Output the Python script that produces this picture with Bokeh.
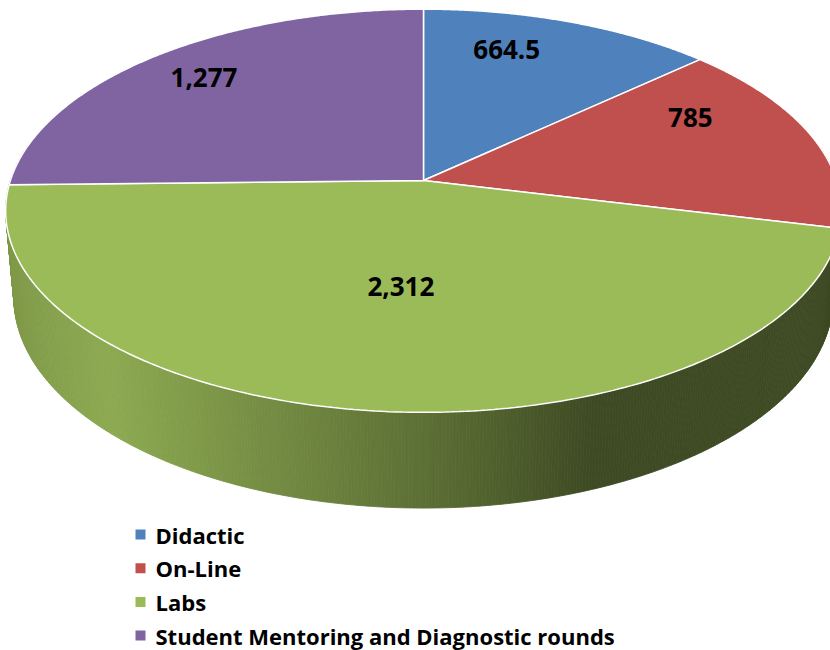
import numpy as np
from bokeh.plotting import figure
from bokeh.models import Range1d
from bokeh.core.properties import value
from bokeh.embed import file_html
from bokeh.resources import INLINE

# ---- data ----
categories = ["Didactic", "On-Line", "Labs", "Student Mentoring and Diagnostic rounds"]
hours = [664.5, 785, 2312, 1277]
labels = ["664.5", "785", "2,312", "1,277"]
colors = ["#4F81BD", "#C0504D", "#9BBB59", "#8064A2"]

# ---- layout / projection settings ----
W, H = 830, 650
CX, CY = 423.0, 180.0          # screen position of the pie centre
ALPHA = np.arcsin(0.477)       # viewing elevation
RAD = 0.1707                   # disc radius relative to camera distance
FOC = 2420.0                   # focal length (px)
DEPTH = 0.0413                 # thickness of the pie
LABEL_F = 0.7
label_nudge = [(-23, -16), (-6, -29), (12, -47), (-27, -13)]


def proj(phi, f=1.0, dep=0.0):
    phi = np.asarray(phi, dtype=float)
    X = RAD * f * np.cos(phi)
    Z = RAD * f * np.sin(phi)
    Y = -dep
    yc = Y * np.cos(ALPHA) + Z * np.sin(ALPHA)
    zc = 1.0 + Z * np.cos(ALPHA) - Y * np.sin(ALPHA)
    return CX + FOC * X / zc, CY - FOC * yc / zc


vals = np.array(hours, dtype=float)
frac = vals / vals.sum()
cum = np.concatenate([[0.0], np.cumsum(frac)])
starts = np.pi / 2 - 2 * np.pi * cum[:-1]
ends = np.pi / 2 - 2 * np.pi * cum[1:]

p = figure(width=W, height=H, x_range=Range1d(0, W), y_range=Range1d(H, 0),
           output_backend="svg", toolbar_location=None, min_border=0)
p.axis.visible = False
p.grid.visible = False
p.outline_line_color = None
p.background_fill_color = "white"


def shade_factor(x):
    xs = [8, 110, 300, 450, 590, 2000]
    fs = [0.82, 0.91, 0.72, 0.57, 0.40, 0.40]
    return float(np.interp(x, xs, fs))


def hex_to_rgb(h):
    h = h.lstrip("#")
    return tuple(int(h[i:i + 2], 16) for i in (0, 2, 4))


# ---- side wall (front half) ----
grid = np.linspace(-np.pi - 0.2, 0.2, 500)
bounds = []
for s, e in zip(starts, ends):
    bounds += [s, e]
extra = [b for b in bounds if -np.pi - 0.2 < b < 0.2]
extra += [b - 2 * np.pi for b in bounds if -np.pi - 0.2 < b - 2 * np.pi < 0.2]
allphi = np.unique(np.concatenate([grid, extra]))


def slice_of(phi):
    t = ((np.pi / 2 - phi) / (2 * np.pi)) % 1.0
    return int(np.searchsorted(cum[1:], t, side="right"))


strips = []
for a0, a1 in zip(allphi[:-1], allphi[1:]):
    mid = 0.5 * (a0 + a1)
    k = min(slice_of(mid), len(vals) - 1)
    tx, ty = proj([a0, a1])
    bx, by = proj([a1, a0], dep=DEPTH)
    xs = list(tx) + list(bx)
    ys = list(ty) + list(by)
    fct = shade_factor(np.mean(xs))
    r, g, b = hex_to_rgb(colors[k])
    col = "#%02x%02x%02x" % (int(r * fct), int(g * fct), int(b * fct))
    strips.append((np.sin(mid), xs, ys, col))

# draw far strips first so the front of the wall stays on top
strips.sort(key=lambda s: -s[0])
p.patches([s[1] for s in strips], [s[2] for s in strips],
          fill_color=[s[3] for s in strips], line_color=[s[3] for s in strips], line_width=0.8)

# ---- top face ----
top_xs, top_ys = [], []
for s, e in zip(starts, ends):
    ph = np.linspace(s, e, 200)
    ax, ay = proj(ph)
    top_xs.append([CX] + list(ax))
    top_ys.append([CY] + list(ay))
p.patches(top_xs, top_ys, fill_color=colors, line_color="white", line_width=1.5)

# ---- data labels ----
mids = 0.5 * (starts + ends)
lx, ly = proj(mids, f=LABEL_F)
lx = lx + np.array([n[0] for n in label_nudge])
ly = ly + np.array([n[1] for n in label_nudge])
p.text(x=lx, y=ly, text=labels, text_font=value("Open Sans"), text_font_style="bold",
       text_font_size="26px", text_align="center", text_baseline="middle", text_color="black")

# ---- legend ----
LEG_X, LEG_Y0, LEG_DY = 140, 534, 33.7
ly_leg = [LEG_Y0 + i * LEG_DY for i in range(len(categories))]
p.scatter(x=[LEG_X] * len(categories), y=ly_leg, marker="square", size=10,
          fill_color=colors, line_color=None)
p.text(x=[LEG_X + 15] * len(categories), y=ly_leg, text=categories, text_font=value("Open Sans"),
       text_font_style="bold", text_font_size="22px", text_align="left",
       text_baseline="middle", text_color="black")

open("out.html", "w").write(file_html(p, INLINE))
